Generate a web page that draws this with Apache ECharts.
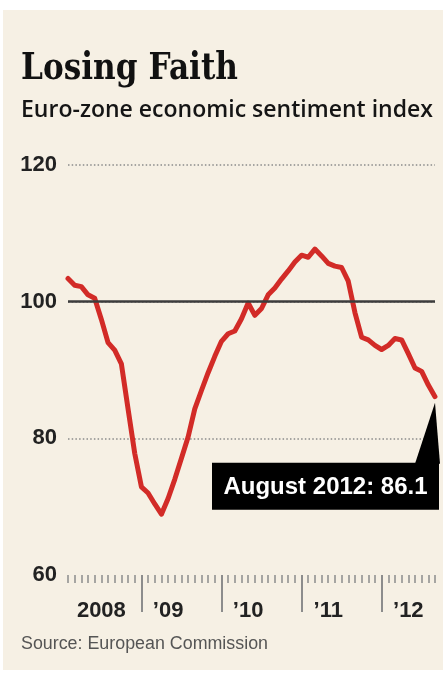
<!DOCTYPE html>
<html>
<head>
<meta charset="utf-8">
<script src="https://cdn.jsdelivr.net/npm/echarts@6/dist/echarts.min.js"></script>
<style>
  html, body { margin: 0; padding: 0; background: #ffffff; }
  #bg { position: absolute; left: 3px; top: 10px; width: 440px; height: 660px; background: #f6f0e4; }
  #chart { position: absolute; left: 0; top: 0; width: 446px; height: 677px; }
</style>
</head>
<body>
<div id="bg"></div>
<div id="chart"></div>
<script>
// ---- data ----
const titleText = 'Losing Faith';
const subtitleText = 'Euro-zone economic sentiment index';
const sourceText = 'Source: European Commission';

const months = [
  '2008-01','2008-02','2008-03','2008-04','2008-05','2008-06','2008-07','2008-08','2008-09','2008-10','2008-11','2008-12',
  '2009-01','2009-02','2009-03','2009-04','2009-05','2009-06','2009-07','2009-08','2009-09','2009-10','2009-11','2009-12',
  '2010-01','2010-02','2010-03','2010-04','2010-05','2010-06','2010-07','2010-08','2010-09','2010-10','2010-11','2010-12',
  '2011-01','2011-02','2011-03','2011-04','2011-05','2011-06','2011-07','2011-08','2011-09','2011-10','2011-11','2011-12',
  '2012-01','2012-02','2012-03','2012-04','2012-05','2012-06','2012-07','2012-08'
];
const sentiment = [
  103.4,102.4,102.2,101.0,100.5,97.4,94.0,92.9,90.9,84.3,77.8,72.9,
  72.0,70.4,68.9,71.2,74.0,77.1,80.2,84.3,87.0,89.6,92.0,94.2,
  95.3,95.7,97.5,99.8,98.0,99.0,101.0,102.0,103.3,104.5,105.8,106.8,
  106.5,107.7,106.7,105.6,105.2,105.0,103.0,98.4,94.8,94.4,93.6,93.0,
  93.6,94.6,94.4,92.4,90.3,89.8,87.8,86.1
];
const yTicks = [60, 80, 100, 120];
const referenceLevel = 100;
const yearLabelAt = ['2008-06', '2009-04', '2010-04', '2011-04', '2012-04'];
const yearLabels = ['2008', '\u201909', '\u201910', '\u201911', '\u201912'];
const yearTickAt = ['2008-12', '2009-12', '2010-12', '2011-12'];
const lastLabel = 'August 2012';

// ---- helpers ----
const measureCtx = document.createElement('canvas').getContext('2d');
function fitScale(text, font, width) {
  measureCtx.font = font;
  const w = measureCtx.measureText(text).width;
  return w > 0 ? width / w : 1;
}

const titleFont = 'bold 38px "DejaVu Serif"';
const subFont = '600 24px "Open Sans", "Liberation Sans"';
const srcFont = '18px "Liberation Sans"';

const chart = echarts.init(document.getElementById('chart'), null, { renderer: 'canvas' });

const option = {
  backgroundColor: 'transparent',
  animation: false,
  grid: { left: 68, right: 11, top: 165, bottom: 102, containLabel: false },
  xAxis: [
    {
      type: 'category',
      data: months,
      boundaryGap: false,
      axisLine: { show: false },
      axisTick: { show: true, interval: 0, length: 8, lineStyle: { color: '#8c8c8c', width: 1.5 } },
      axisLabel: {
        show: true,
        interval: (i, v) => yearLabelAt.indexOf(v) >= 0,
        formatter: (v) => { const k = yearLabelAt.indexOf(v); return k >= 0 ? yearLabels[k] : ''; },
        color: '#222', fontSize: 22, fontWeight: 'bold', fontFamily: 'Liberation Sans',
        margin: 25
      },
      splitLine: { show: false }
    },
    {
      type: 'category',
      data: months,
      boundaryGap: false,
      position: 'bottom',
      axisLine: { show: false },
      axisTick: { show: true, interval: (i, v) => yearTickAt.indexOf(v) >= 0, length: 37, lineStyle: { color: '#8c8c8c', width: 2 } },
      axisLabel: { show: false },
      splitLine: { show: false }
    }
  ],
  yAxis: {
    type: 'value',
    min: yTicks[0], max: yTicks[yTicks.length - 1], interval: 20,
    axisLine: { show: false },
    axisTick: { show: false },
    axisLabel: { color: '#222', fontSize: 22, fontWeight: 'bold', fontFamily: 'Liberation Sans', margin: 11 },
    splitLine: { show: true, showMinLine: false, lineStyle: { color: '#8a8a8a', type: [1.5, 2.2], width: 1.6 } }
  },
  series: [
    {
      type: 'line',
      data: [],
      silent: true,
      markLine: {
        silent: true, symbol: 'none', label: { show: false },
        lineStyle: { color: '#3c3c3c', type: 'solid', width: 2.5 },
        data: [{ yAxis: referenceLevel }]
      }
    },
    {
      type: 'line',
      data: sentiment,
      showSymbol: false,
      symbol: 'none',
      lineStyle: { color: '#d22b27', width: 5, join: 'round', cap: 'round' },
      silent: true
    }
  ]
};
chart.setOption(option);

// annotation anchored to last data point
const lastIdx = sentiment.length - 1;
const p = chart.convertToPixel({ seriesIndex: 1 }, [lastIdx, sentiment[lastIdx]]);
const boxRight = p[0] + 4, boxW = 227, boxTop = p[1] + 66, boxH = 47;

chart.setOption({
  graphic: [
    { type: 'text', x: 21, y: 69, scaleX: fitScale(titleText, titleFont, 217),
      style: { text: titleText, font: titleFont, fill: '#111', verticalAlign: 'middle' } },
    { type: 'text', x: 21, y: 110, scaleX: fitScale(subtitleText, subFont, 412),
      style: { text: subtitleText, font: subFont, fill: '#151515', verticalAlign: 'middle' } },
    { type: 'text', x: 21, y: 644, scaleX: fitScale(sourceText, srcFont, 247),
      style: { text: sourceText, font: srcFont, fill: '#555', verticalAlign: 'middle' } },
    { type: 'polygon', shape: { points: [[boxRight - 24, boxTop + 1], [boxRight + 1, boxTop + 1], [p[0], p[1] + 6]] },
      style: { fill: '#000' }, z: 100 },
    { type: 'rect', shape: { x: boxRight - boxW, y: boxTop, width: boxW, height: boxH },
      style: { fill: '#000' }, z: 100 },
    { type: 'text', x: boxRight - boxW / 2, y: boxTop + boxH / 2 + 1, z: 101,
      style: { text: lastLabel + ': ' + sentiment[lastIdx], font: 'bold 24px "Liberation Sans"', fill: '#fff', align: 'center', verticalAlign: 'middle' } }
  ]
});
</script>
</body>
</html>
